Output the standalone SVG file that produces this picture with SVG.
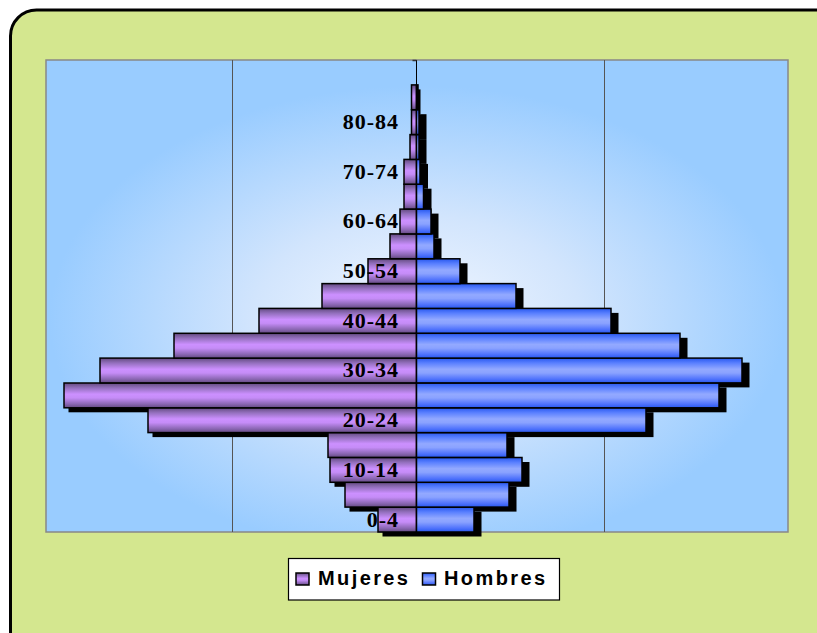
<svg xmlns="http://www.w3.org/2000/svg" width="817" height="633" viewBox="0 0 817 633">
<defs>
<radialGradient id="bg" cx="0.5" cy="0.55" r="0.55" fx="0.5" fy="0.55">
<stop offset="0" stop-color="#f2f7ff"/>
<stop offset="0.4" stop-color="#d2e5fd"/>
<stop offset="0.9" stop-color="#99ccff"/>
</radialGradient>
<linearGradient id="gf" x1="0" y1="0" x2="0" y2="1">
<stop offset="0" stop-color="#634a80"/>
<stop offset="0.2" stop-color="#9470be"/>
<stop offset="0.45" stop-color="#cc90ff"/>
<stop offset="0.6" stop-color="#c58cf7"/>
<stop offset="0.85" stop-color="#8a66b2"/>
<stop offset="1" stop-color="#634a80"/>
</linearGradient>
<linearGradient id="gm" x1="0" y1="0" x2="0" y2="1">
<stop offset="0" stop-color="#2858ee"/>
<stop offset="0.2" stop-color="#5a80ff"/>
<stop offset="0.45" stop-color="#93a9ff"/>
<stop offset="0.6" stop-color="#8aa2ff"/>
<stop offset="0.85" stop-color="#4f72fc"/>
<stop offset="1" stop-color="#2858ee"/>
</linearGradient>
<style>
.f{fill:url(#gf);stroke:#000;stroke-width:1.5}
.m{fill:url(#gm);stroke:#000;stroke-width:1.5}
.sh{fill:#000}
.lbl{font-family:"Liberation Serif","Times New Roman",serif;font-weight:bold;font-size:22px;fill:#000;text-anchor:end;letter-spacing:1px}
.leg{font-family:"Liberation Sans",Arial,sans-serif;font-weight:bold;font-size:20px;fill:#000;letter-spacing:2.4px}
.grid{stroke:#555;stroke-width:1}
</style>
</defs>
<g id="frame">
<rect x="10.5" y="10" width="830" height="650" rx="26" ry="26" fill="#d4e78f" stroke="#000" stroke-width="3"/>
</g>
<g id="plot">
<rect x="46" y="60" width="742" height="472" fill="url(#bg)" stroke="#888" stroke-width="1.5"/>
<line class="grid" x1="232.5" y1="60" x2="232.5" y2="532"/>
<line class="grid" x1="604.5" y1="60" x2="604.5" y2="532"/>
<line x1="416.5" y1="60" x2="416.5" y2="532" stroke="#000" stroke-width="1"/>
<line x1="412.5" y1="60.5" x2="416.5" y2="60.5" stroke="#333" stroke-width="1.5"/>
</g>
<g id="shadows">
<rect class="sh" x="382.5" y="511.7" width="99" height="24.8"/>
<rect class="sh" x="349.5" y="486.8" width="167" height="24.8"/>
<rect class="sh" x="334.5" y="462" width="195" height="24.8"/>
<rect class="sh" x="332.5" y="437.1" width="182" height="24.8"/>
<rect class="sh" x="152.5" y="412.3" width="501" height="24.8"/>
<rect class="sh" x="68.5" y="387.5" width="658" height="24.8"/>
<rect class="sh" x="104.5" y="362.6" width="645" height="24.8"/>
<rect class="sh" x="178.5" y="337.8" width="509" height="24.8"/>
<rect class="sh" x="263.5" y="312.9" width="355" height="24.8"/>
<rect class="sh" x="326.5" y="288.1" width="197" height="24.8"/>
<rect class="sh" x="372.5" y="263.3" width="95" height="24.8"/>
<rect class="sh" x="394.5" y="238.4" width="47" height="24.8"/>
<rect class="sh" x="404.5" y="213.6" width="34" height="24.8"/>
<rect class="sh" x="408.5" y="188.7" width="23" height="24.8"/>
<rect class="sh" x="408.5" y="163.9" width="19.5" height="24.8"/>
<rect class="sh" x="414.5" y="139.1" width="12" height="24.8"/>
<rect class="sh" x="416" y="114.2" width="10.5" height="24.8"/>
<rect class="sh" x="416" y="89.4" width="4.5" height="24.8"/>
</g>
<g id="mujeres">
<rect class="f" x="378" y="507.2" width="38.5" height="24.8"/>
<rect class="f" x="345" y="482.3" width="71.5" height="24.8"/>
<rect class="f" x="330" y="457.5" width="86.5" height="24.8"/>
<rect class="f" x="328" y="432.6" width="88.5" height="24.8"/>
<rect class="f" x="148" y="407.8" width="268.5" height="24.8"/>
<rect class="f" x="64" y="383" width="352.5" height="24.8"/>
<rect class="f" x="100" y="358.1" width="316.5" height="24.8"/>
<rect class="f" x="174" y="333.3" width="242.5" height="24.8"/>
<rect class="f" x="259" y="308.4" width="157.5" height="24.8"/>
<rect class="f" x="322" y="283.6" width="94.5" height="24.8"/>
<rect class="f" x="368" y="258.8" width="48.5" height="24.8"/>
<rect class="f" x="390" y="233.9" width="26.5" height="24.8"/>
<rect class="f" x="400" y="209.1" width="16.5" height="24.8"/>
<rect class="f" x="404" y="184.2" width="12.5" height="24.8"/>
<rect class="f" x="404" y="159.4" width="12.5" height="24.8"/>
<rect class="f" x="410" y="134.6" width="6.5" height="24.8"/>
<rect class="f" x="411.5" y="109.7" width="5" height="24.8"/>
<rect class="f" x="411.5" y="84.9" width="5" height="24.8"/>
</g>
<g id="hombres">
<rect class="m" x="416.5" y="507.2" width="57.5" height="24.8"/>
<rect class="m" x="416.5" y="482.3" width="92.5" height="24.8"/>
<rect class="m" x="416.5" y="457.5" width="105.5" height="24.8"/>
<rect class="m" x="416.5" y="432.6" width="90.5" height="24.8"/>
<rect class="m" x="416.5" y="407.8" width="229.5" height="24.8"/>
<rect class="m" x="416.5" y="383" width="302.5" height="24.8"/>
<rect class="m" x="416.5" y="358.1" width="325.5" height="24.8"/>
<rect class="m" x="416.5" y="333.3" width="263.5" height="24.8"/>
<rect class="m" x="416.5" y="308.4" width="194.5" height="24.8"/>
<rect class="m" x="416.5" y="283.6" width="99.5" height="24.8"/>
<rect class="m" x="416.5" y="258.8" width="43.5" height="24.8"/>
<rect class="m" x="416.5" y="233.9" width="17.5" height="24.8"/>
<rect class="m" x="416.5" y="209.1" width="14.5" height="24.8"/>
<rect class="m" x="416.5" y="184.2" width="7" height="24.8"/>
<rect class="m" x="416.5" y="159.4" width="3.5" height="24.8"/>
<rect class="m" x="416.5" y="134.6" width="2.5" height="24.8"/>
<rect class="m" x="416.5" y="109.7" width="2.5" height="24.8"/>
<rect class="m" x="416.5" y="84.9" width="1.5" height="24.8"/>
</g>
<g id="labels">
<text class="lbl" x="399" y="526.5">0-4</text>
<text class="lbl" x="399" y="476.8">10-14</text>
<text class="lbl" x="399" y="427.1">20-24</text>
<text class="lbl" x="399" y="377.4">30-34</text>
<text class="lbl" x="399" y="327.7">40-44</text>
<text class="lbl" x="399" y="278">50-54</text>
<text class="lbl" x="399" y="228.4">60-64</text>
<text class="lbl" x="399" y="178.7">70-74</text>
<text class="lbl" x="399" y="129">80-84</text>
</g>
<g id="legend">
<rect x="288.5" y="558.5" width="271" height="41.5" fill="#fff" stroke="#000" stroke-width="1.2"/>
<rect x="296" y="573" width="13" height="12" fill="url(#gf)" stroke="#000" stroke-width="1.5"/>
<text class="leg" x="318" y="585">Mujeres</text>
<rect x="422.5" y="573" width="13" height="12" fill="url(#gm)" stroke="#000" stroke-width="1.5"/>
<text class="leg" x="444" y="585">Hombres</text>
</g>
</svg>
